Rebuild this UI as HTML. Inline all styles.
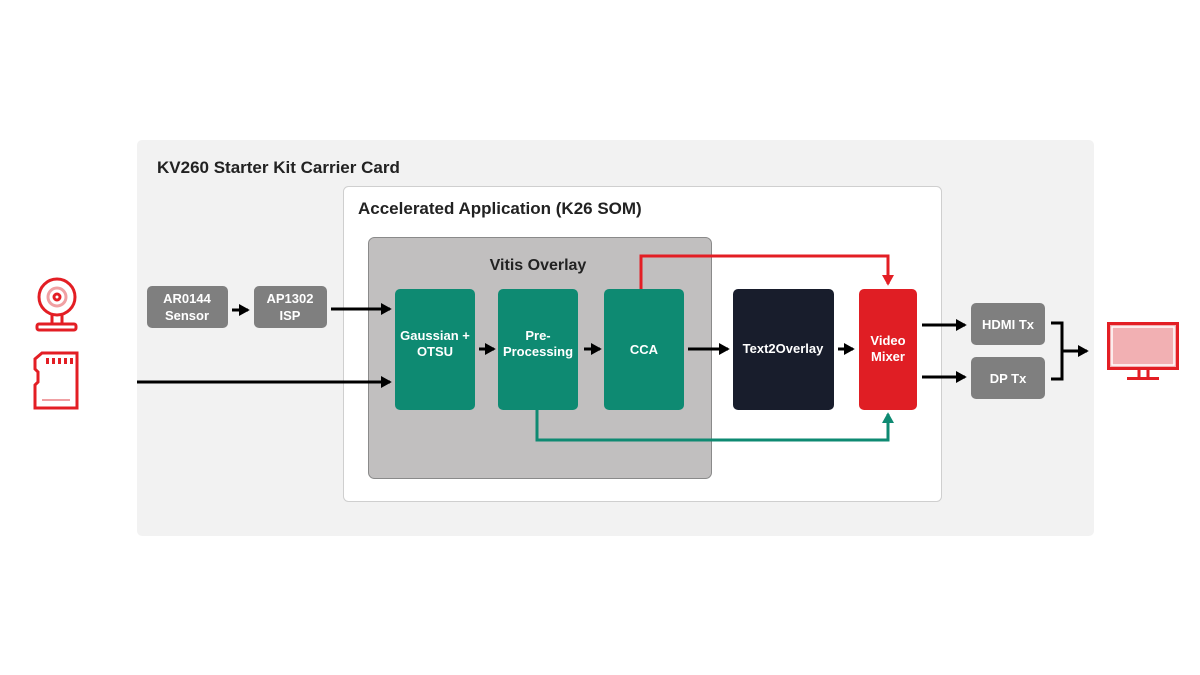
<!DOCTYPE html>
<html><head><meta charset="utf-8"><style>
html,body{margin:0;padding:0;background:#fff;}
svg{display:block;font-family:"Liberation Sans",Arial,sans-serif;}
</style></head><body>
<svg width="1200" height="675" viewBox="0 0 1200 675" xmlns="http://www.w3.org/2000/svg">
<defs>
<marker id="ak" markerWidth="4" markerHeight="4" refX="3" refY="2" orient="auto" markerUnits="strokeWidth"><path d="M0,0 L3.6,2 L0,4 z" fill="#000"/></marker>
<marker id="ar" markerWidth="4" markerHeight="4" refX="3" refY="2" orient="auto" markerUnits="strokeWidth"><path d="M0,0 L3.6,2 L0,4 z" fill="#e31e24"/></marker>
<marker id="ag" markerWidth="4" markerHeight="4" refX="3" refY="2" orient="auto" markerUnits="strokeWidth"><path d="M0,0 L3.6,2 L0,4 z" fill="#0e8a72"/></marker>
</defs>
<rect x="137" y="140" width="957" height="396" rx="5" fill="#f2f2f2"/>
<text x="157" y="173" font-size="17" font-weight="bold" fill="#222">KV260 Starter Kit Carrier Card</text>
<rect x="343.5" y="186.5" width="598" height="315" rx="5" fill="#fff" stroke="#cfcfcf"/>
<text x="358" y="214" font-size="17" font-weight="bold" fill="#222">Accelerated Application (K26 SOM)</text>
<rect x="368.5" y="237.5" width="343" height="241" rx="6" fill="#c1bfbf" stroke="#8a8a8a"/>
<text x="538" y="270" font-size="16" font-weight="bold" fill="#222" text-anchor="middle">Vitis Overlay</text>

<g fill="none" stroke-width="3">
<path d="M641,289 V256 H888 V284" stroke="#e31e24" marker-end="url(#ar)"/>
<path d="M537,410 V440 H888 V414" stroke="#0e8a72" marker-end="url(#ag)"/>
</g>
<g fill="none" stroke="#000" stroke-width="3" marker-end="url(#ak)">
<line x1="232" y1="310" x2="248" y2="310"/>
<line x1="331" y1="309" x2="390" y2="309"/>
<line x1="137" y1="382" x2="390" y2="382"/>
<line x1="479" y1="349" x2="494" y2="349"/>
<line x1="584" y1="349" x2="600" y2="349"/>
<line x1="688" y1="349" x2="728" y2="349"/>
<line x1="838" y1="349" x2="853" y2="349"/>
<line x1="922" y1="325" x2="965" y2="325"/>
<line x1="922" y1="377" x2="965" y2="377"/>
<line x1="1062" y1="351" x2="1087" y2="351"/>
</g>
<path d="M1051,323 H1062 V379 H1051" fill="none" stroke="#000" stroke-width="3"/>

<g fill="#7f7f7f">
<rect x="147" y="286" width="81" height="42" rx="5"/>
<rect x="254" y="286" width="73" height="42" rx="5"/>
<rect x="971" y="303" width="74" height="42" rx="5"/>
<rect x="971" y="357" width="74" height="42" rx="5"/>
</g>
<g fill="#fff" font-size="13" font-weight="bold" text-anchor="middle">
<text x="187" y="303">AR0144</text><text x="187" y="320">Sensor</text>
<text x="290" y="303">AP1302</text><text x="290" y="320">ISP</text>
<text x="1008" y="329">HDMI Tx</text>
<text x="1008" y="383">DP Tx</text>
</g>

<rect x="395" y="289" width="80" height="121" rx="5" fill="#0e8a72"/>
<rect x="498" y="289" width="80" height="121" rx="5" fill="#0e8a72"/>
<rect x="604" y="289" width="80" height="121" rx="5" fill="#0e8a72"/>
<rect x="733" y="289" width="101" height="121" rx="5" fill="#181d2c"/>
<rect x="859" y="289" width="58" height="121" rx="5" fill="#e01e24"/>
<g fill="#fff" font-size="13" font-weight="bold" text-anchor="middle">
<text x="435" y="340">Gaussian +</text><text x="435" y="356">OTSU</text>
<text x="538" y="340">Pre-</text><text x="538" y="356">Processing</text>
<text x="644" y="354">CCA</text>
<text x="783" y="353">Text2Overlay</text>
<text x="888" y="345">Video</text><text x="888" y="361">Mixer</text>
</g>

<g fill="none" stroke="#e31e24" stroke-width="3">
<circle cx="57" cy="297" r="18"/>
<circle cx="57" cy="297" r="9" stroke="#f0a0a3"/>
<circle cx="57" cy="297" r="3"/>
<line x1="52" y1="315" x2="52" y2="324"/><line x1="62" y1="315" x2="62" y2="324"/>
<rect x="37" y="324" width="39" height="6" rx="2"/>
</g>
<g fill="none" stroke="#e31e24" stroke-width="3">
<path d="M42,353 H77 V408 H35 V385 L38,382 V372 L35,369 V359 Z"/>
</g>
<g fill="#e31e24">
<rect x="46" y="358" width="3" height="6"/><rect x="52" y="358" width="3" height="6"/><rect x="58" y="358" width="3" height="6"/><rect x="64" y="358" width="3" height="6"/><rect x="70" y="358" width="3" height="6"/>
</g>
<line x1="42" y1="400" x2="70" y2="400" stroke="#f0a0a3" stroke-width="2"/>

<rect x="1108.5" y="323.5" width="69" height="45" fill="#f2b0b3" stroke="#e31e24" stroke-width="3"/>
<rect x="1112" y="327" width="62" height="38" fill="none" stroke="#fff" stroke-width="1.5"/>
<line x1="1139" y1="369" x2="1139" y2="377" stroke="#e31e24" stroke-width="3"/>
<line x1="1148" y1="369" x2="1148" y2="377" stroke="#e31e24" stroke-width="3"/>
<line x1="1127" y1="378.5" x2="1159" y2="378.5" stroke="#e31e24" stroke-width="3"/>
</svg>
</body></html>
